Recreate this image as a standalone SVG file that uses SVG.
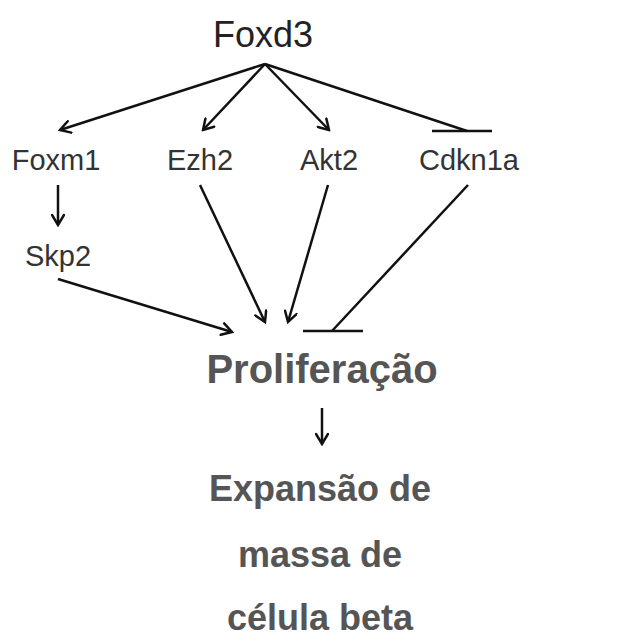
<svg xmlns="http://www.w3.org/2000/svg" width="630" height="637" viewBox="0 0 630 637">
<defs>
<marker id="arr" viewBox="0 0 14 14" refX="12" refY="7" markerWidth="14" markerHeight="14" markerUnits="userSpaceOnUse" orient="auto">
<path d="M2,1 L12,7 L2,13" fill="none" stroke="#111" stroke-width="2.5" stroke-linecap="round" stroke-linejoin="miter"/>
</marker>
</defs>
<style>
.lab{font-family:"Liberation Sans",Arial,sans-serif;fill:#333;font-size:29px;text-anchor:middle}
.top{font-family:"Liberation Sans",Arial,sans-serif;fill:#222;font-size:36px;text-anchor:middle}
.big{font-family:"Liberation Sans",Arial,sans-serif;fill:#555;font-weight:bold;text-anchor:middle}
.c{stroke:#111;stroke-width:2.5;fill:none}
.a{marker-end:url(#arr)}
</style>
<g id="connectors">
<line class="c a" x1="265" y1="64" x2="60" y2="130"/>
<line class="c a" x1="265" y1="64" x2="203" y2="130"/>
<line class="c a" x1="265" y1="64" x2="329" y2="130"/>
<line class="c" x1="265" y1="64" x2="467" y2="131"/>
<line class="c" x1="432" y1="131" x2="492" y2="131"/>
<line class="c a" x1="58" y1="185" x2="58" y2="225"/>
<line class="c a" x1="58" y1="279" x2="232" y2="332"/>
<line class="c a" x1="200" y1="185" x2="265" y2="322"/>
<line class="c a" x1="328" y1="185" x2="288" y2="322"/>
<line class="c" x1="468" y1="185" x2="332" y2="331"/>
<line class="c" x1="303" y1="331" x2="363" y2="331"/>
<line class="c a" x1="322" y1="408" x2="322" y2="444"/>
</g>
<g id="Foxd3"><text class="top" x="263" y="47">Foxd3</text></g>
<g id="Foxm1"><text class="lab" x="56" y="170">Foxm1</text></g>
<g id="Ezh2"><text class="lab" x="200" y="170">Ezh2</text></g>
<g id="Akt2"><text class="lab" x="329" y="170">Akt2</text></g>
<g id="Cdkn1a"><text class="lab" x="469" y="170">Cdkn1a</text></g>
<g id="Skp2"><text class="lab" x="58" y="266">Skp2</text></g>
<g id="Proliferacao"><text class="big" x="322" y="383" font-size="40">Proliferação</text></g>
<g id="Expansao"><text class="big" x="320" y="501" font-size="36">Expansão de</text>
<text class="big" x="320" y="567" font-size="36">massa de</text>
<text class="big" x="320" y="630" font-size="36">célula beta</text></g>
</svg>
